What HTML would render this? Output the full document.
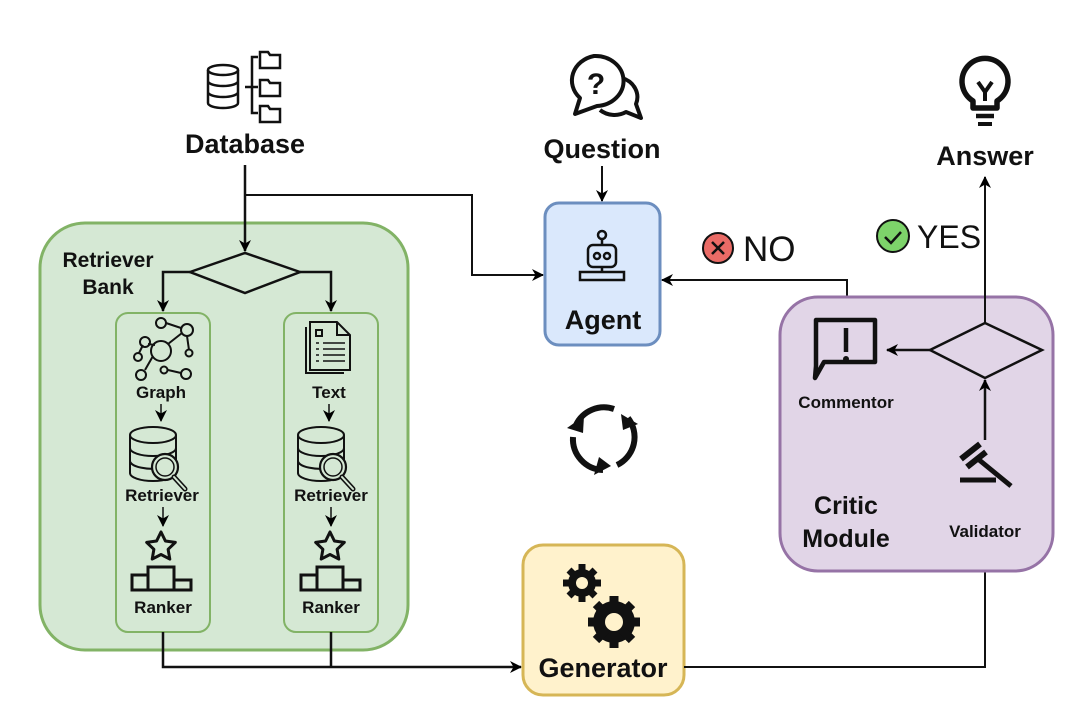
<!DOCTYPE html>
<html><head><meta charset="utf-8"><style>
html,body{margin:0;padding:0;background:#fff;}
svg{display:block;font-family:"Liberation Sans",sans-serif;}
.b{font-weight:bold;fill:#111;}
</style></head><body>
<svg width="1080" height="725" viewBox="0 0 1080 725" xmlns="http://www.w3.org/2000/svg">
<defs>
<marker id="a" markerWidth="12" markerHeight="12" refX="11" refY="6" orient="auto" markerUnits="userSpaceOnUse"><path d="M0,0 L12,6 L0,12 L3.5,6 z" fill="#000"/></marker>
<g id="retr">
 <ellipse cx="0" cy="0" rx="23" ry="8" fill="none" stroke="#111" stroke-width="2"/>
 <path d="M-23,0 V38 A23,8 0 0 0 23,38 V0 M-23,13 A23,8 0 0 0 23,13 M-23,26 A23,8 0 0 0 10,33" fill="none" stroke="#111" stroke-width="2"/>
 <circle cx="12" cy="32" r="13" fill="#d5e8d4" stroke="#111" stroke-width="2.2"/>
 <circle cx="12" cy="32" r="9" fill="none" stroke="#111" stroke-width="1.5"/>
 <path d="M21,42 L32,54" stroke="#111" stroke-width="5" stroke-linecap="round"/>
 <path d="M21,42 L32,54" stroke="#d5e8d4" stroke-width="2" stroke-linecap="round"/>
</g>
<g id="rank">
 <path d="M0,-15 L4.4,-6 L14.3,-4.6 L7.1,2.3 L8.8,12.1 L0,7.5 L-8.8,12.1 L-7.1,2.3 L-14.3,-4.6 L-4.4,-6 z" fill="none" stroke="#111" stroke-width="3" stroke-linejoin="round"/>
 <path d="M-29,28 H-13 V43 H-29 z M-13,20 H13 V43 H-13 z M13,33 H30 V43 H13 z" fill="none" stroke="#111" stroke-width="3"/>
</g>
</defs>

<!-- Retriever bank -->
<rect x="40" y="223" width="368" height="427" rx="45" fill="#d5e8d4" stroke="#82b366" stroke-width="3"/>
<rect x="116" y="313" width="94" height="319" rx="12" fill="#d5e8d4" stroke="#82b366" stroke-width="2"/>
<rect x="284" y="313" width="94" height="319" rx="12" fill="#d5e8d4" stroke="#82b366" stroke-width="2"/>
<text x="108" y="267" class="b" font-size="21" text-anchor="middle">Retriever</text>
<text x="108" y="294" class="b" font-size="21" text-anchor="middle">Bank</text>
<polygon points="190,272 245,253 300,272 245,293" fill="none" stroke="#111" stroke-width="2.5"/>
<path d="M190,272 H163 V311" fill="none" stroke="#111" stroke-width="2.5" marker-end="url(#a)"/>
<path d="M300,272 H331 V311" fill="none" stroke="#111" stroke-width="2.5" marker-end="url(#a)"/>

<!-- Database -->
<g fill="none" stroke="#111" stroke-width="2.5">
 <ellipse cx="223" cy="70" rx="15" ry="5"/>
 <path d="M208,70 V103 A15,5 0 0 0 238,103 V70 M208,81 A15,5 0 0 0 238,81 M208,92 A15,5 0 0 0 238,92"/>
 <path d="M245,87 H252 M258,57 H252 V113 H258 M252,87 H258"/>
 <path d="M260,52 h8 l2,3 h10 v13 h-20 z M260,80 h8 l2,3 h10 v13 h-20 z M260,106 h8 l2,3 h10 v13 h-20 z"/>
</g>
<text x="245" y="153" class="b" font-size="27" text-anchor="middle">Database</text>
<path d="M245,165 V251" fill="none" stroke="#111" stroke-width="2.5" marker-end="url(#a)"/>
<path d="M245,195 H472 V275 H543" fill="none" stroke="#111" stroke-width="2" marker-end="url(#a)"/>

<!-- Graph column -->
<g fill="none" stroke="#111" stroke-width="2">
 <circle cx="161" cy="351" r="10"/><circle cx="161" cy="323" r="5"/><circle cx="187" cy="330" r="6"/>
 <circle cx="189" cy="353" r="3.5"/><circle cx="145" cy="342" r="5"/><circle cx="138" cy="357" r="4"/>
 <circle cx="141" cy="375" r="5"/><circle cx="164" cy="370" r="3.5"/><circle cx="186" cy="374" r="5"/>
 <path d="M166,323 L181,328 M187,336 L189,350 M168,344 L182,333 M153,356 L145,370 M155,345 L148,344 M168,370 L181,373 M143,345 L139,353"/>
</g>
<text x="161" y="398" class="b" font-size="17" text-anchor="middle">Graph</text>
<path d="M161,404 V421" stroke="#111" stroke-width="1.5" marker-end="url(#a)"/>
<use href="#retr" x="153" y="435"/>
<text x="162" y="501" class="b" font-size="17" text-anchor="middle">Retriever</text>
<path d="M163,507 V526" stroke="#111" stroke-width="1.5" marker-end="url(#a)"/>
<use href="#rank" x="161" y="547"/>
<text x="163" y="613" class="b" font-size="17" text-anchor="middle">Ranker</text>

<!-- Text column -->
<g fill="none" stroke="#111" stroke-width="2">
 <path d="M306,327 V373 H344"/>
 <path d="M310,322 H337 L350,335 V370 H310 z M337,322 V335 H350"/>
 <rect x="316" y="330" width="6" height="6"/>
 <path d="M316,343 h3 M323,343 h22 M316,349 h3 M323,349 h22 M316,355 h3 M323,355 h22 M316,361 h3 M323,361 h22" stroke-width="1.5"/>
</g>
<text x="329" y="398" class="b" font-size="17" text-anchor="middle">Text</text>
<path d="M329,404 V421" stroke="#111" stroke-width="1.5" marker-end="url(#a)"/>
<use href="#retr" x="321" y="435"/>
<text x="331" y="501" class="b" font-size="17" text-anchor="middle">Retriever</text>
<path d="M331,507 V526" stroke="#111" stroke-width="1.5" marker-end="url(#a)"/>
<use href="#rank" x="330" y="547"/>
<text x="331" y="613" class="b" font-size="17" text-anchor="middle">Ranker</text>

<path d="M163,632 V667 H521" fill="none" stroke="#111" stroke-width="2.5" marker-end="url(#a)"/>
<path d="M331,632 V667" fill="none" stroke="#111" stroke-width="2.5"/>

<!-- Question -->
<g fill="none" stroke="#111" stroke-width="4" stroke-linejoin="round">
 <path d="M622,78 A22,20 0 0 1 636,104 L641,118 L626,112 A22,20 0 0 1 600,110"/>
 <path d="M594,56 A28,25 0 1 1 597,106 L575,114 L580,98 A28,25 0 0 1 594,56 z" fill="#fff"/>
</g>
<text x="596" y="94" font-size="30" font-weight="bold" text-anchor="middle" fill="#111">?</text>
<text x="602" y="158" class="b" font-size="27" text-anchor="middle">Question</text>
<path d="M602,166 V201" stroke="#111" stroke-width="2" marker-end="url(#a)"/>

<!-- Agent -->
<rect x="545" y="203" width="115" height="142" rx="14" fill="#dae8fc" stroke="#6c8ebf" stroke-width="3"/>
<g fill="none" stroke="#111" stroke-width="2.5">
 <circle cx="602" cy="235" r="4"/><path d="M602,239 V245"/>
 <rect x="588" y="245" width="28" height="22" rx="5"/>
 <circle cx="597" cy="256" r="3"/><circle cx="607" cy="256" r="3"/>
 <path d="M602,267 V272 M580,280 V272 H624 V280 z"/>
</g>
<text x="603" y="329" class="b" font-size="27" text-anchor="middle">Agent</text>

<!-- NO -->
<path d="M847,318 V280 H662" fill="none" stroke="#111" stroke-width="2" marker-end="url(#a)"/>
<circle cx="718" cy="248" r="15" fill="#ea6b66" stroke="#111" stroke-width="2"/>
<path d="M712,242 L724,254 M724,242 L712,254" stroke="#111" stroke-width="2.5"/>
<text x="743" y="261" font-size="35" fill="#111">NO</text>

<!-- cycle -->
<g fill="none" stroke="#111" stroke-width="6">
 <path d="M576,425 A31,31 0 0 1 614,409"/>
 <path d="M628,418 A31,31 0 0 1 617,465"/>
 <path d="M603,470 A31,31 0 0 1 573,437"/>
</g>
<g fill="#111">
 <path d="M567,428 L584,416 L583,433 z"/>
 <path d="M621,414 L638,424 L623,430 z"/>
 <path d="M594,475 L599,457 L611,466 z"/>
</g>

<!-- Generator -->
<rect x="523" y="545" width="161" height="150" rx="20" fill="#fff2cc" stroke="#d6b656" stroke-width="3"/>
<g fill="#111">
 <circle cx="582" cy="583" r="14"/>
 <g stroke="#111" stroke-width="7">
  <path d="M582,564 V602 M563,583 H601 M569,570 L595,596 M595,570 L569,596"/>
 </g>
 <circle cx="614" cy="622" r="21"/>
 <g stroke="#111" stroke-width="9">
  <path d="M614,596 V648 M588,622 H640 M596,604 L632,640 M632,604 L596,640"/>
 </g>
</g>
<circle cx="582" cy="583" r="6" fill="#fff2cc"/>
<circle cx="614" cy="622" r="9" fill="#fff2cc"/>
<text x="603" y="677" class="b" font-size="27" text-anchor="middle">Generator</text>
<path d="M684,667 H985 V553" fill="none" stroke="#111" stroke-width="2" marker-end="url(#a)"/>

<!-- Critic -->
<rect x="780" y="297" width="273" height="274" rx="38" fill="#e1d5e7" stroke="#9673a6" stroke-width="3"/>
<polygon points="930,350 985,323 1042,350 985,378" fill="none" stroke="#111" stroke-width="2.5"/>
<path d="M930,350 H887" stroke="#111" stroke-width="2.5" marker-end="url(#a)"/>
<path d="M985,323 V177" stroke="#111" stroke-width="2" marker-end="url(#a)"/>
<path d="M985,440 V380" stroke="#111" stroke-width="2.5" marker-end="url(#a)"/>
<g fill="none" stroke="#111" stroke-width="4.5" stroke-linejoin="round">
 <path d="M816,366 V320 H875 V362 H824 L815,378 z"/>
</g>
<path d="M846,328 V352" stroke="#111" stroke-width="4.5"/>
<circle cx="846" cy="359" r="3" fill="#111"/>
<text x="846" y="408" class="b" font-size="17" text-anchor="middle">Commentor</text>
<g stroke="#111" stroke-width="5">
 <path d="M960,480 H996"/>
 <path d="M967,467 L986,452 M961,459 L980,444" stroke-width="6"/>
 <path d="M978,459 L1011,486" stroke-width="5"/>
</g>
<text x="985" y="537" class="b" font-size="17" text-anchor="middle">Validator</text>
<text x="846" y="514" class="b" font-size="25" text-anchor="middle">Critic</text>
<text x="846" y="547" class="b" font-size="25" text-anchor="middle">Module</text>

<!-- YES -->
<circle cx="893" cy="236" r="16" fill="#7dd36a" stroke="#111" stroke-width="2"/>
<path d="M885,237 L891,243 L901,232" fill="none" stroke="#111" stroke-width="2.5"/>
<text x="917" y="248" font-size="32" fill="#111">YES</text>

<!-- Answer -->
<g fill="none" stroke="#111" stroke-width="5.5" stroke-linejoin="round">
 <path d="M973,108 V101 A23,23 0 1 1 997,101 V108 z"/>
 <path d="M978,124 H992 M985,91 V101 M978,82 L985,92 L992,82" stroke-width="4"/>
</g>
<path d="M976,116 H994" stroke="#111" stroke-width="4.5"/>
<text x="985" y="165" class="b" font-size="27" text-anchor="middle">Answer</text>
</svg>
</body></html>
